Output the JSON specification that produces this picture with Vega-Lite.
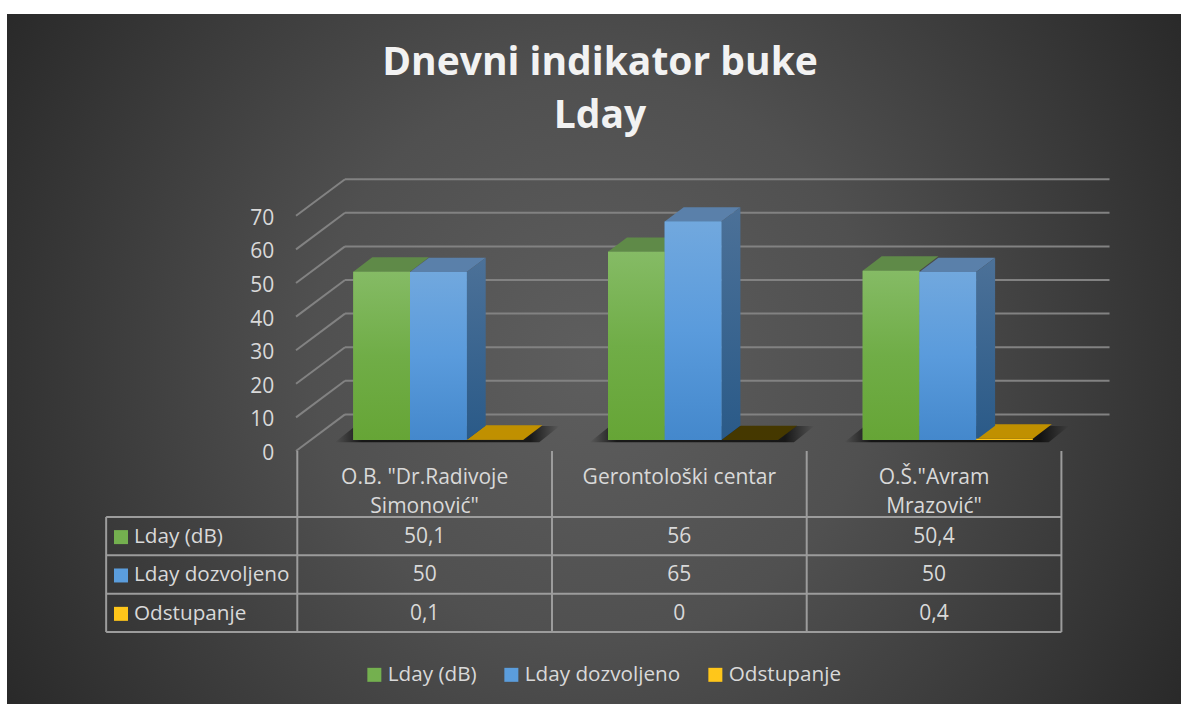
{
"$schema":"https://vega.github.io/schema/vega-lite/v6.json",
"width":1174,"height":690,
"autosize":{"type":"none"},
"padding":{"left":7,"top":14,"right":0,"bottom":0},
"background":"#ffffff",
"config":{"font":"Open Sans","view":{"stroke":null}},
"view":{"stroke":null,"fill":{"gradient":"radial","x1":0.5,"y1":0.5,"r1":0,"x2":0.5,"y2":0.5,"r2":0.6,"stops":[{"offset":0,"color":"#5e5e5e"},{"offset":0.4,"color":"#505050"},{"offset":1,"color":"#272727"}]}},
"title":{"text":["Dnevni indikator buke","Lday"],"fontSize":39,"fontWeight":"bold","color":"#f2f2f2","font":"Open Sans","anchor":"middle","frame":"group","lineHeight":53,"baseline":"top","offset":-122,"dx":6},
"data":{"values":[
{"kategorija":"O.B. \"Dr.Radivoje\nSimonović\"","serija":"Lday (dB)","vrijednost":50.1},
{"kategorija":"Gerontološki centar","serija":"Lday (dB)","vrijednost":56},
{"kategorija":"O.Š.\"Avram\nMrazović\"","serija":"Lday (dB)","vrijednost":50.4},
{"kategorija":"O.B. \"Dr.Radivoje\nSimonović\"","serija":"Lday dozvoljeno","vrijednost":50},
{"kategorija":"Gerontološki centar","serija":"Lday dozvoljeno","vrijednost":65},
{"kategorija":"O.Š.\"Avram\nMrazović\"","serija":"Lday dozvoljeno","vrijednost":50},
{"kategorija":"O.B. \"Dr.Radivoje\nSimonović\"","serija":"Odstupanje","vrijednost":0.1},
{"kategorija":"Gerontološki centar","serija":"Odstupanje","vrijednost":0},
{"kategorija":"O.Š.\"Avram\nMrazović\"","serija":"Odstupanje","vrijednost":0.4}
]},
"transform":[
{"calculate":"indexof(['O.B','Ger','O.Š'],substring(datum.kategorija,0,3))","as":"ci"},
{"calculate":"indexof(['Lday (dB)','Lday dozvoljeno','Odstupanje'],datum.serija)","as":"si"},
{"calculate":"datum.ci+0.2199+datum.si*0.2226","as":"x0"},
{"calculate":"datum.x0+0.2226","as":"x1"},
{"calculate":"-28.9-datum.si*11.42","as":"ry"},
{"calculate":"[0,1]","as":"t"},
{"flatten":["t"]},
{"calculate":"datum.x0+datum.t*0.0746","as":"xa"},
{"calculate":"datum.x1+datum.t*0.0746","as":"xb"},
{"calculate":"datum.t*4.256","as":"ya"},
{"calculate":"datum.vrijednost+datum.ya","as":"yb"}
],
"layer":[
{"data":{"values":[{"v":0},{"v":10},{"v":20},{"v":30},{"v":40},{"v":50},{"v":60},{"v":70}]},
 "transform":[{"calculate":"-0.005","as":"ua"},{"calculate":"0.1873","as":"ub"},{"calculate":"3.189","as":"uc"},{"calculate":"-0.0903","as":"ul"},{"calculate":"datum.v-3.274","as":"yf"},{"calculate":"datum.v+7.62","as":"yk"}],
 "layer":[
 {"mark":{"type":"rule","color":"#828282","size":2},
  "encoding":{"x":{"field":"ua","type":"quantitative","axis":null,"scale":{"domain":[-1.13978,3.46957],"nice":false,"zero":false}},"x2":{"field":"ub"},
  "y":{"field":"yf","type":"quantitative","scale":{"domain":[-78.571,126.786],"nice":false,"zero":false},"axis":null},"y2":{"field":"yk"}}},
 {"mark":{"type":"rule","color":"#828282","size":2},
  "encoding":{"x":{"field":"ub","type":"quantitative","axis":null},"x2":{"field":"uc"},"y":{"field":"yk","type":"quantitative","axis":null}}},
 {"mark":{"type":"text","fontSize":21,"color":"#d9d9d9","align":"right","baseline":"middle","dy":3},
  "encoding":{"x":{"field":"ul","type":"quantitative","axis":null},"y":{"field":"yf","type":"quantitative","axis":null},"text":{"field":"v","type":"quantitative"}}}
 ]},
{"transform":[{"filter":"datum.si==0"},{"calculate":"datum.ci+0.148+datum.t*0.08","as":"sa"},{"calculate":"datum.ci+0.95+datum.t*0.08","as":"sb"},{"calculate":"-0.7+datum.t*4.9","as":"sy"}],
 "mark":{"type":"area","orient":"horizontal","fill":{"gradient":"linear","x1":0,"y1":0,"x2":1,"y2":0,"stops":[{"offset":0,"color":"rgba(0,0,0,0)"},{"offset":0.12,"color":"rgba(0,0,0,0.72)"},{"offset":0.87,"color":"rgba(0,0,0,0.72)"},{"offset":1,"color":"rgba(0,0,0,0)"}]}},
 "encoding":{"y":{"field":"sy","type":"quantitative","axis":null,"stack":null},"x":{"field":"sa","type":"quantitative","axis":null,"stack":null},"x2":{"field":"sb"},"detail":{"field":"kategorija"}}},
{"transform":[{"filter":"datum.si==0"}],"mark":{"type":"area","orient":"horizontal","fill":"#5f8a48"},
 "encoding":{"y":{"field":"yb","type":"quantitative","axis":null,"stack":null},"x":{"field":"xa","type":"quantitative","axis":null,"stack":null},"x2":{"field":"xb"},"detail":{"field":"kategorija"}}},
{"transform":[{"filter":"datum.si==1"}],"mark":{"type":"area","orient":"horizontal","fill":"#5a80aa"},
 "encoding":{"y":{"field":"yb","type":"quantitative","axis":null,"stack":null},"x":{"field":"xa","type":"quantitative","axis":null,"stack":null},"x2":{"field":"xb"},"detail":{"field":"kategorija"}}},
{"transform":[{"filter":"datum.si==2 && datum.vrijednost>0"}],"mark":{"type":"area","orient":"horizontal","fill":"#c09000"},
 "encoding":{"y":{"field":"yb","type":"quantitative","axis":null,"stack":null},"x":{"field":"xa","type":"quantitative","axis":null,"stack":null},"x2":{"field":"xb"},"detail":{"field":"kategorija"}}},
{"transform":[{"filter":"datum.si==2 && datum.vrijednost==0"}],"mark":{"type":"area","orient":"horizontal","fill":"#453800"},
 "encoding":{"y":{"field":"yb","type":"quantitative","axis":null,"stack":null},"x":{"field":"xa","type":"quantitative","axis":null,"stack":null},"x2":{"field":"xb"},"detail":{"field":"kategorija"}}},
{"transform":[{"filter":"datum.si==1"},{"calculate":"datum.x1+datum.t*0.0746","as":"xs"}],
 "mark":{"type":"area","orient":"vertical","fill":{"gradient":"linear","x1":0,"y1":0,"x2":0,"y2":1,"stops":[{"offset":0,"color":"#4c7198"},{"offset":1,"color":"#2a5a88"}]}},
 "encoding":{"x":{"field":"xs","type":"quantitative","axis":null,"stack":null},"y":{"field":"yb","type":"quantitative","axis":null,"stack":null},"y2":{"field":"ya"},"detail":{"field":"kategorija"}}},
{"transform":[{"filter":"datum.t==0"}],"mark":{"type":"rect"},
 "encoding":{"x":{"field":"x0","type":"quantitative","axis":null},"x2":{"field":"x1"},"y":{"field":"vrijednost","type":"quantitative","axis":null,"stack":null},"y2":{"datum":0},
 "color":{"field":"serija","type":"nominal","legend":{"orient":"none","legendX":357,"legendY":650,"direction":"horizontal","columns":3,"title":null,"symbolType":"square","symbolSize":196,"symbolStrokeWidth":0,"labelFontSize":20.7,"labelColor":"#d9d9d9","labelFont":"Open Sans","labelOffset":3,"columnPadding":24,"labelLimit":300},
 "scale":{"domain":["Lday (dB)","Lday dozvoljeno","Odstupanje"],"range":["#74b04f","#5b9ddc","#ffc61a"]}}}},
{"transform":[{"filter":"datum.t==0 && datum.si==0"}],"mark":{"type":"rect","fill":{"gradient":"linear","x1":0,"y1":0,"x2":0,"y2":1,"stops":[{"offset":0,"color":"#85bb65"},{"offset":0.5,"color":"#70ad47"},{"offset":1,"color":"#66a536"}]}},
 "encoding":{"x":{"field":"x0","type":"quantitative","axis":null},"x2":{"field":"x1"},"y":{"field":"vrijednost","type":"quantitative","axis":null,"stack":null},"y2":{"datum":0}}},
{"transform":[{"filter":"datum.t==0 && datum.si==1"}],"mark":{"type":"rect","fill":{"gradient":"linear","x1":0,"y1":0,"x2":0,"y2":1,"stops":[{"offset":0,"color":"#71a8de"},{"offset":0.5,"color":"#5a9bdc"},{"offset":1,"color":"#4488cc"}]}},
 "encoding":{"x":{"field":"x0","type":"quantitative","axis":null},"x2":{"field":"x1"},"y":{"field":"vrijednost","type":"quantitative","axis":null,"stack":null},"y2":{"datum":0}}},
{"data":{"values":[{"r":0},{"r":1},{"r":2},{"r":3}]},
 "transform":[{"calculate":"-22.9-datum.r*11.42","as":"ly"},{"calculate":"-0.7505","as":"la"},{"calculate":"3","as":"lb"}],
 "mark":{"type":"rule","color":"#9c9c9c","size":2},
 "encoding":{"x":{"field":"la","type":"quantitative","axis":null},"x2":{"field":"lb"},"y":{"field":"ly","type":"quantitative","axis":null}}},
{"data":{"values":[{"c":-0.7505,"gore":0},{"c":0,"gore":1},{"c":1,"gore":1},{"c":2,"gore":1},{"c":3,"gore":1}]},
 "transform":[{"calculate":"datum.gore==1?-3.274:-22.9","as":"ta"},{"calculate":"-57.16","as":"tb"}],
 "mark":{"type":"rule","color":"#9c9c9c","size":2},
 "encoding":{"x":{"field":"c","type":"quantitative","axis":null},"y":{"field":"ta","type":"quantitative","axis":null},"y2":{"field":"tb"}}},
{"transform":[{"filter":"datum.si==0 && datum.t==0"},{"calculate":"datum.ci+0.5","as":"cx"},{"calculate":"-8","as":"cy"}],
 "mark":{"type":"text","fontSize":21,"color":"#d9d9d9","align":"center","baseline":"top","lineBreak":"\n","lineHeight":29},
 "encoding":{"x":{"field":"cx","type":"quantitative","axis":null},"y":{"field":"cy","type":"quantitative","axis":null},"text":{"field":"kategorija"}}},
{"transform":[{"filter":"datum.t==0"},{"calculate":"datum.ci+0.5","as":"cx"},{"calculate":"replace(toString(datum.vrijednost),'.',',')","as":"lab"}],
 "mark":{"type":"text","fontSize":21,"color":"#d9d9d9","align":"center","baseline":"middle"},
 "encoding":{"x":{"field":"cx","type":"quantitative","axis":null},"y":{"field":"ry","type":"quantitative","axis":null},"text":{"field":"lab"}}},
{"transform":[{"filter":"datum.t==0 && datum.ci==0"},{"calculate":"-0.6412","as":"kx"}],
 "mark":{"type":"text","fontSize":20.7,"color":"#d9d9d9","align":"left","baseline":"middle"},
 "encoding":{"x":{"field":"kx","type":"quantitative","axis":null},"y":{"field":"ry","type":"quantitative","axis":null},"text":{"field":"serija"}}},
{"transform":[{"filter":"datum.t==0 && datum.ci==0"},{"calculate":"-0.6923","as":"kx"}],
 "mark":{"type":"square","size":196,"opacity":1},
 "encoding":{"x":{"field":"kx","type":"quantitative","axis":null},"y":{"field":"ry","type":"quantitative","axis":null},
 "color":{"field":"serija","type":"nominal","legend":null}}}
]
}
